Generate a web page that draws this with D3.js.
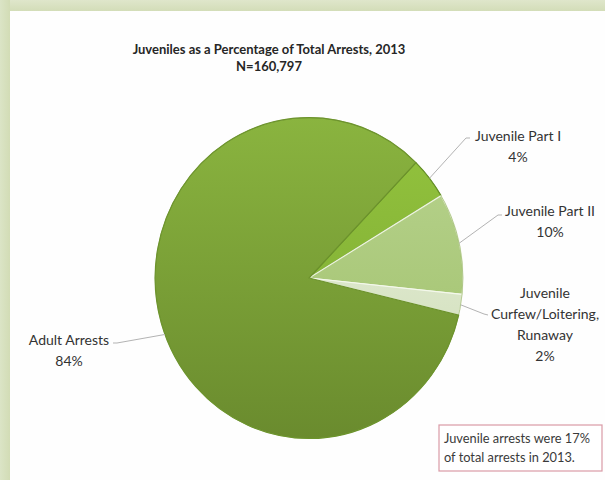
<!DOCTYPE html>
<html><head><meta charset="utf-8">
<script src="https://cdn.jsdelivr.net/npm/d3@7"></script>
<style>
html,body{margin:0;padding:0;background:#fff;}
svg{display:block;}
text{font-family:Lato,"Open Sans",sans-serif;}
</style></head>
<body>
<svg id="c" width="605" height="480"></svg>
<script>
const categories = ["Juvenile Part I", "Juvenile Part II", "Juvenile Curfew/Loitering, Runaway", "Adult Arrests"];
const values = [4.2, 10.2, 2.1, 83.5];
const labelLines = [["Juvenile Part I"], ["Juvenile Part II"], ["Juvenile", "Curfew/Loitering,", "Runaway"], ["Adult Arrests"]];
const titleLines = ["Juveniles as a Percentage of Total Arrests, 2013", "N=160,797"];
const noteLines = ["Juvenile arrests were 17%", "of total arrests in 2013."];

const colorsTop = ["#94c43e", "#b9d491", "#eef3e4", "#8ab43f"];
const colorsBot = ["#79a631", "#9ebf67", "#c9dab0", "#6a8b2e"];
const strokes = ["#5e8a22", "#eef5e0", "#f4f8ec", "#6c922c"];

const svg = d3.select("#c");
const defs = svg.append("defs");

// frame
const fg = defs.append("linearGradient").attr("id","frameTop").attr("x1",0).attr("y1",0).attr("x2",0).attr("y2",1);
fg.append("stop").attr("offset",0).attr("stop-color","#dfe6cb");
fg.append("stop").attr("offset",1).attr("stop-color","#d3ddb8");
const fl = defs.append("linearGradient").attr("id","frameLeft").attr("x1",0).attr("y1",0).attr("x2",1).attr("y2",0);
fl.append("stop").attr("offset",0).attr("stop-color","#dbe4c6");
fl.append("stop").attr("offset",1).attr("stop-color","#d2dcb5");
svg.append("rect").attr("x",0).attr("y",0).attr("width",605).attr("height",480).attr("fill","#fefefe");
svg.append("rect").attr("x",0).attr("y",0).attr("width",605).attr("height",11).attr("fill","url(#frameTop)");
svg.append("rect").attr("x",0).attr("y",0).attr("width",10).attr("height",480).attr("fill","url(#frameLeft)");

// title
svg.append("g").selectAll("text").data(titleLines).join("text")
  .attr("x",269).attr("y",(d,i)=>54+i*17)
  .attr("text-anchor","middle").attr("font-size",13).attr("font-weight","bold")
  .attr("fill","#262626").text(d=>d);

// pie
const cx = 309, cy = 278, R = 157;
const pie = d3.pie().sort(null).value(d=>d).startAngle(44*Math.PI/180).endAngle(44*Math.PI/180 + 2*Math.PI);
const arcs = pie(values);
const arc = d3.arc().innerRadius(0).outerRadius(R);

values.forEach((v,i)=>{
  const g = defs.append("linearGradient").attr("id","sg"+i)
    .attr("gradientUnits","userSpaceOnUse").attr("x1",0).attr("y1",-R).attr("x2",0).attr("y2",R);
  g.append("stop").attr("offset",0).attr("stop-color",colorsTop[i]);
  g.append("stop").attr("offset",1).attr("stop-color",colorsBot[i]);
});

const pg = svg.append("g").attr("transform",`translate(${cx},${cy}) scale(0.98,1.022)`);
pg.selectAll("path").data(arcs).join("path")
  .attr("d",arc)
  .attr("fill",(d,i)=>`url(#sg${i})`)
  .attr("stroke",(d,i)=>strokes[i])
  .attr("stroke-width",1.2)
  .attr("stroke-linejoin","round");
pg.append("circle").attr("r",R).attr("fill","none").attr("stroke","#6f9630").attr("stroke-width",0.8).attr("opacity",0.6);

// labels
const labelPos = [
  {x:518, y:141, anchor:"middle"},
  {x:550, y:216, anchor:"middle"},
  {x:545, y:298, anchor:"middle"},
  {x:69, y:345, anchor:"middle"}
];
const leaderEnd = [[470,138],[502,215],[488,315],[113,343]];
const leaderBend = [[466,138],[498,215],[484,314],[117,343]];
const fmt = v => Math.round(v) + "%";

const lg = svg.append("g");
arcs.forEach((a,i)=>{
  const mid = (a.startAngle + a.endAngle)/2;
  const ang = i===3 ? (a.startAngle + (250-104)*Math.PI/180) : mid;
  const sx = cx + Math.sin(ang)*R*0.98, sy = cy - Math.cos(ang)*R*1.022;
  lg.append("polyline")
    .attr("points",[[sx,sy],leaderBend[i],leaderEnd[i]].map(p=>p.join(",")).join(" "))
    .attr("fill","none").attr("stroke","#b3b3b3").attr("stroke-width",1);
  const lines = labelLines[i].concat([fmt(values[i])]);
  lg.append("g").selectAll("text").data(lines).join("text")
    .attr("x",labelPos[i].x).attr("y",(d,j)=>labelPos[i].y + j*21)
    .attr("text-anchor",labelPos[i].anchor)
    .attr("font-size",14).attr("fill","#333").text(d=>d);
});

// note box
svg.append("rect").attr("x",439).attr("y",425).attr("width",163).attr("height",46)
  .attr("fill","#fff").attr("stroke","#d99aa6").attr("stroke-width",1.2);
svg.append("g").selectAll("text").data(noteLines).join("text")
  .attr("x",444).attr("y",(d,i)=>443+i*19)
  .attr("font-size",12.8).attr("fill","#3a3a3a").text(d=>d);
</script>
</body></html>
